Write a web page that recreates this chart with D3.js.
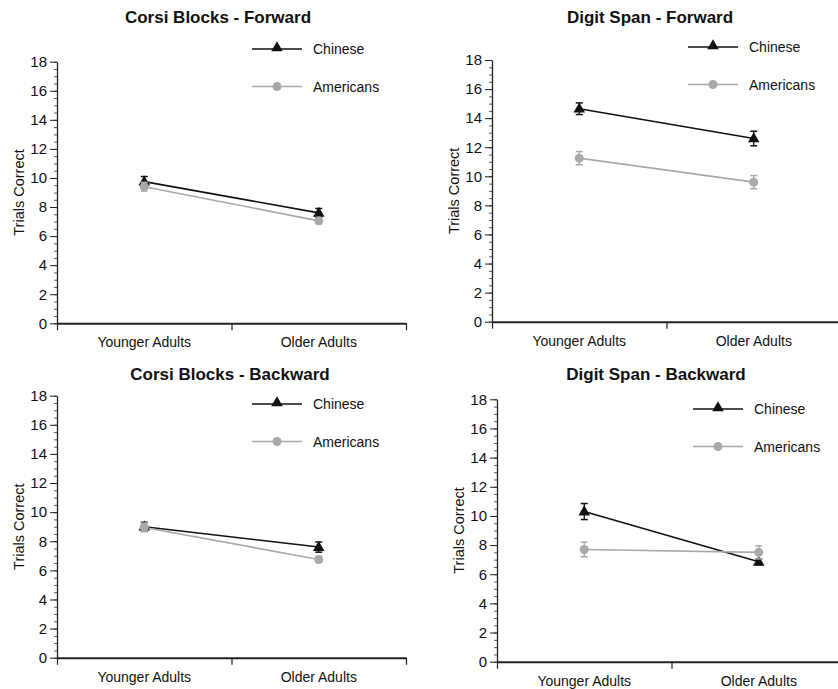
<!DOCTYPE html>
<html>
<head>
<meta charset="utf-8">
<script src="https://cdn.jsdelivr.net/npm/d3@7"></script>
<style>
  body { margin: 0; background: #fff; }
  svg { display: block; font-family: "Liberation Sans", Arial, Helvetica, sans-serif; }
</style>
</head>
<body>
<svg id="chart" width="838" height="689"></svg>
<script>
// ---- data ----
var categories = ['Younger Adults', 'Older Adults'];
var panelTitles = ['Corsi Blocks - Forward', 'Digit Span - Forward', 'Corsi Blocks - Backward', 'Digit Span - Backward'];
var seriesNames = ['Chinese', 'Americans'];
var chineseMeans = [[9.75, 7.6], [14.65, 12.6], [9.0, 7.6], [10.3, 6.85]];
var chineseErr = [[0.35, 0.3], [0.4, 0.5], [0.3, 0.35], [0.55, 0.2]];
var americanMeans = [[9.4, 7.05], [11.25, 9.6], [8.95, 6.75], [7.7, 7.5]];
var americanErr = [[0.3, 0.2], [0.45, 0.45], [0.3, 0.2], [0.5, 0.45]];
var yMajorTicks = [0, 2, 4, 6, 8, 10, 12, 14, 16, 18];

// panel frames (pixel boxes of each plot)
var frames = [
  { x0: 57, x1: 406, top: 61.7, bot: 323.3, tx: 218, ty: 23, lx: 252, ly: 49, yl: 24 },
  { x0: 492, x1: 841, top: 60, bot: 321.7, tx: 650, ty: 23, lx: 688, ly: 47, yl: 459 },
  { x0: 57, x1: 406, top: 395.7, bot: 657.7, tx: 230, ty: 380, lx: 252, ly: 404, yl: 24 },
  { x0: 497, x1: 846, top: 399.3, bot: 661.7, tx: 656, ty: 380, lx: 693, ly: 409, yl: 464 }
];

var BLACK = '#111', GRAY = '#a9a9a9';
var svg = d3.select('#chart');
var tri = d3.symbol().type(d3.symbolTriangle).size(58);

frames.forEach(function(f, p) {
  var g = svg.append('g');

  var x = d3.scaleBand().domain(categories).range([f.x0, f.x1]).padding(0);
  var xb = d3.scaleLinear().domain([0, categories.length]).range([f.x0, f.x1]);
  var y = d3.scaleLinear().domain([0, 18]).range([f.bot, f.top]);

  // title
  g.append('text')
    .attr('x', f.tx).attr('y', f.ty)
    .attr('text-anchor', 'middle')
    .attr('font-size', 17).attr('font-weight', 'bold')
    .attr('fill', '#111')
    .text(panelTitles[p]);

  // y minor ticks
  g.append('g')
    .attr('transform', 'translate(' + f.x0 + ',0)')
    .call(d3.axisLeft(y).tickValues(d3.range(0, 18.01, 0.5)).tickSize(3).tickSizeOuter(0).tickFormat(''))
    .call(function(a) {
      a.select('.domain').remove();
      a.selectAll('line').attr('stroke', '#333').attr('stroke-width', 0.8);
    });

  // y axis
  g.append('g')
    .attr('transform', 'translate(' + f.x0 + ',0)')
    .call(d3.axisLeft(y).tickValues(yMajorTicks).tickSize(7).tickSizeOuter(0).tickPadding(3))
    .call(function(a) {
      a.select('.domain').attr('stroke', '#222').attr('stroke-width', 1.3);
      a.selectAll('line').attr('stroke', '#222').attr('stroke-width', 1);
      a.selectAll('text').attr('font-size', 15).attr('fill', '#111').attr('font-family', 'inherit');
    });

  // x axis: boundary ticks
  g.append('g')
    .attr('transform', 'translate(0,' + f.bot + ')')
    .call(d3.axisBottom(xb).tickValues(d3.range(0, categories.length + 1)).tickSize(7).tickSizeOuter(0).tickFormat(''))
    .call(function(a) {
      a.select('.domain').attr('stroke', '#222').attr('stroke-width', 2);
      a.selectAll('line').attr('stroke', '#222').attr('stroke-width', 1.2);
    });

  // x category labels
  g.append('g')
    .attr('transform', 'translate(0,' + f.bot + ')')
    .call(d3.axisBottom(x).tickSize(0).tickPadding(14))
    .call(function(a) {
      a.select('.domain').remove();
      a.selectAll('text').attr('font-size', 14).attr('fill', '#111').attr('font-family', 'inherit');
    });

  // y label
  g.append('text')
    .attr('transform', 'translate(' + f.yl + ',' + ((f.top + f.bot) / 2) + ') rotate(-90)')
    .attr('text-anchor', 'middle')
    .attr('font-size', 14.5).attr('fill', '#111')
    .text('Trials Correct');

  var series = [
    { name: seriesNames[0], means: chineseMeans[p], err: chineseErr[p], color: BLACK, shape: 'tri' },
    { name: seriesNames[1], means: americanMeans[p], err: americanErr[p], color: GRAY, shape: 'circle' }
  ];

  var line = d3.line()
    .x(function(d, i) { return x(categories[i]) + x.bandwidth() / 2; })
    .y(function(d) { return y(d); });

  // lines first, then error bars / markers
  series.forEach(function(s) {
    g.append('path')
      .datum(s.means)
      .attr('d', line)
      .attr('fill', 'none')
      .attr('stroke', s.color)
      .attr('stroke-width', 1.6);
  });

  series.forEach(function(s) {
    s.means.forEach(function(m, i) {
      var cx = x(categories[i]) + x.bandwidth() / 2;
      var lo = y(m - s.err[i]), hi = y(m + s.err[i]);
      g.append('line').attr('x1', cx).attr('x2', cx).attr('y1', lo).attr('y2', hi)
        .attr('stroke', s.color).attr('stroke-width', 1.3);
      [lo, hi].forEach(function(yy) {
        g.append('line').attr('x1', cx - 3.5).attr('x2', cx + 3.5).attr('y1', yy).attr('y2', yy)
          .attr('stroke', s.color).attr('stroke-width', 1.5);
      });
      if (s.shape === 'tri') {
        g.append('path').attr('d', tri)
          .attr('transform', 'translate(' + cx + ',' + (y(m) + 0.5) + ')')
          .attr('fill', s.color);
      } else {
        g.append('circle').attr('cx', cx).attr('cy', y(m)).attr('r', 4.5).attr('fill', s.color);
      }
    });
  });

  // legend
  series.forEach(function(s, k) {
    var ly = f.ly + k * 37.5;
    g.append('line').attr('x1', f.lx).attr('x2', f.lx + 50).attr('y1', ly).attr('y2', ly)
      .attr('stroke', s.color).attr('stroke-width', 1.6);
    if (s.shape === 'tri') {
      g.append('path').attr('d', tri)
        .attr('transform', 'translate(' + (f.lx + 25) + ',' + (ly - 1) + ')')
        .attr('fill', s.color);
    } else {
      g.append('circle').attr('cx', f.lx + 25).attr('cy', ly).attr('r', 4.5).attr('fill', s.color);
    }
    g.append('text')
      .attr('x', f.lx + 61).attr('y', ly)
      .attr('dominant-baseline', 'central')
      .attr('font-size', 14).attr('fill', '#111')
      .text(s.name);
  });
});
</script>
</body>
</html>
